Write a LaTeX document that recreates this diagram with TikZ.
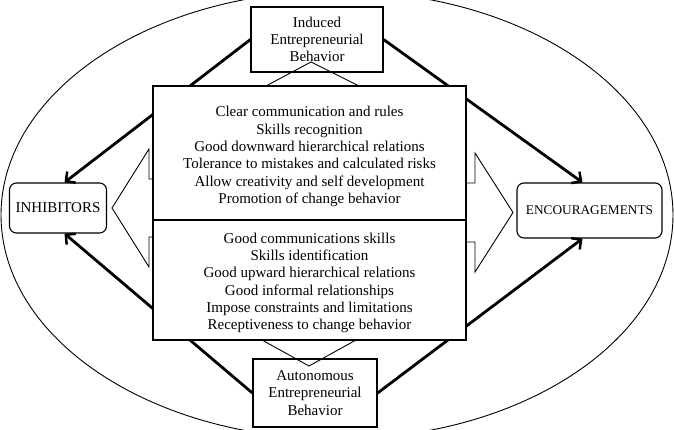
\documentclass[tikz,border=0pt]{standalone}
\usepackage{fontspec}
\setmainfont{Liberation Serif}
\usetikzlibrary{arrows.meta,calc}
\begin{document}
\begin{tikzpicture}[x=1pt,y=-1pt,
  txt/.style={font=\fontsize{15}{17.3}\selectfont},
  thin line/.style={line width=0.9pt},
  box/.style={draw,line width=1.2pt,fill=white,align=center,inner sep=0pt,txt},
  plain/.style={align=center,inner sep=0pt,txt},
  sidebox/.style={draw,line width=1.1pt,fill=white,rounded corners=7pt,inner sep=0pt,txt},
  thickarrow/.style={line width=2.8pt,-{Straight Barb[length=7pt,width=14pt,line width=2.5pt]}}
]
\useasboundingbox (0,0) rectangle (674,430);
\begin{scope}
  \clip (0,0) rectangle (674,430);
  \draw[thin line] (337,215) ellipse [x radius=336pt, y radius=224pt];
\end{scope}

% side boxes
\node[sidebox,minimum width=97pt,minimum height=50pt] (inh) at (58,208) {INHIBITORS};
\node[sidebox,minimum width=145pt,minimum height=55pt,font=\fontsize{13.3}{16}\selectfont] (enc) at (589.5,210.5) {ENCOURAGEMENTS};

% behaviour boxes
\node[box,minimum width=132pt,minimum height=65pt] (ind) at (317,39.5) {Induced\\Entrepreneurial\\Behavior};
\node[box,minimum width=124pt,minimum height=68pt] (aut) at (315,393) {Autonomous\\Entrepreneurial\\Behavior};

% thick arrows
\draw[thickarrow] (ind.west) -- ([xshift=6.5pt]inh.north);
\draw[thickarrow] (ind.east) -- ([xshift=-7pt]enc.north);
\draw[thickarrow] (aut.west) -- ([xshift=6.5pt]inh.south);
\draw[thickarrow] (aut.east) -- ([xshift=-7pt]enc.south);

% block arrows
\draw[thin line,line join=miter] (153,179) -- (149,179) -- (149,149) -- (112,208) -- (149,267) -- (149,237) -- (153,237);
\draw[thin line,line join=miter] (466,183) -- (475,183) -- (475,153) -- (513,212.5) -- (475,272) -- (475,242) -- (466,242);

% main box
\node[box,minimum width=313pt,minimum height=134pt] (up) at (309.5,153) {};
\node[box,minimum width=313pt,minimum height=120pt] (low) at (309.5,280) {};
\node[plain] (uptext) at (up.center) [yshift=-3.5pt] {Clear communication and rules\\Skills recognition\\Good downward hierarchical relations\\Tolerance to mistakes and calculated risks\\Allow creativity and self development\\Promotion of change behavior};
\node[plain] (lowtext) at (low.center) [yshift=-3pt] {Good communications skills\\Skills identification\\Good upward hierarchical relations\\Good informal relationships\\Impose constraints and limitations\\Receptiveness to change behavior};

% small triangles
\coordinate (ta) at (311,62);
\coordinate (ba) at (309,366);
\draw[thin line] (266,86) -- (ta) -- (359,86);
\draw[thin line] (262,340) -- (ba) -- (356,340);
\end{tikzpicture}
\end{document}
